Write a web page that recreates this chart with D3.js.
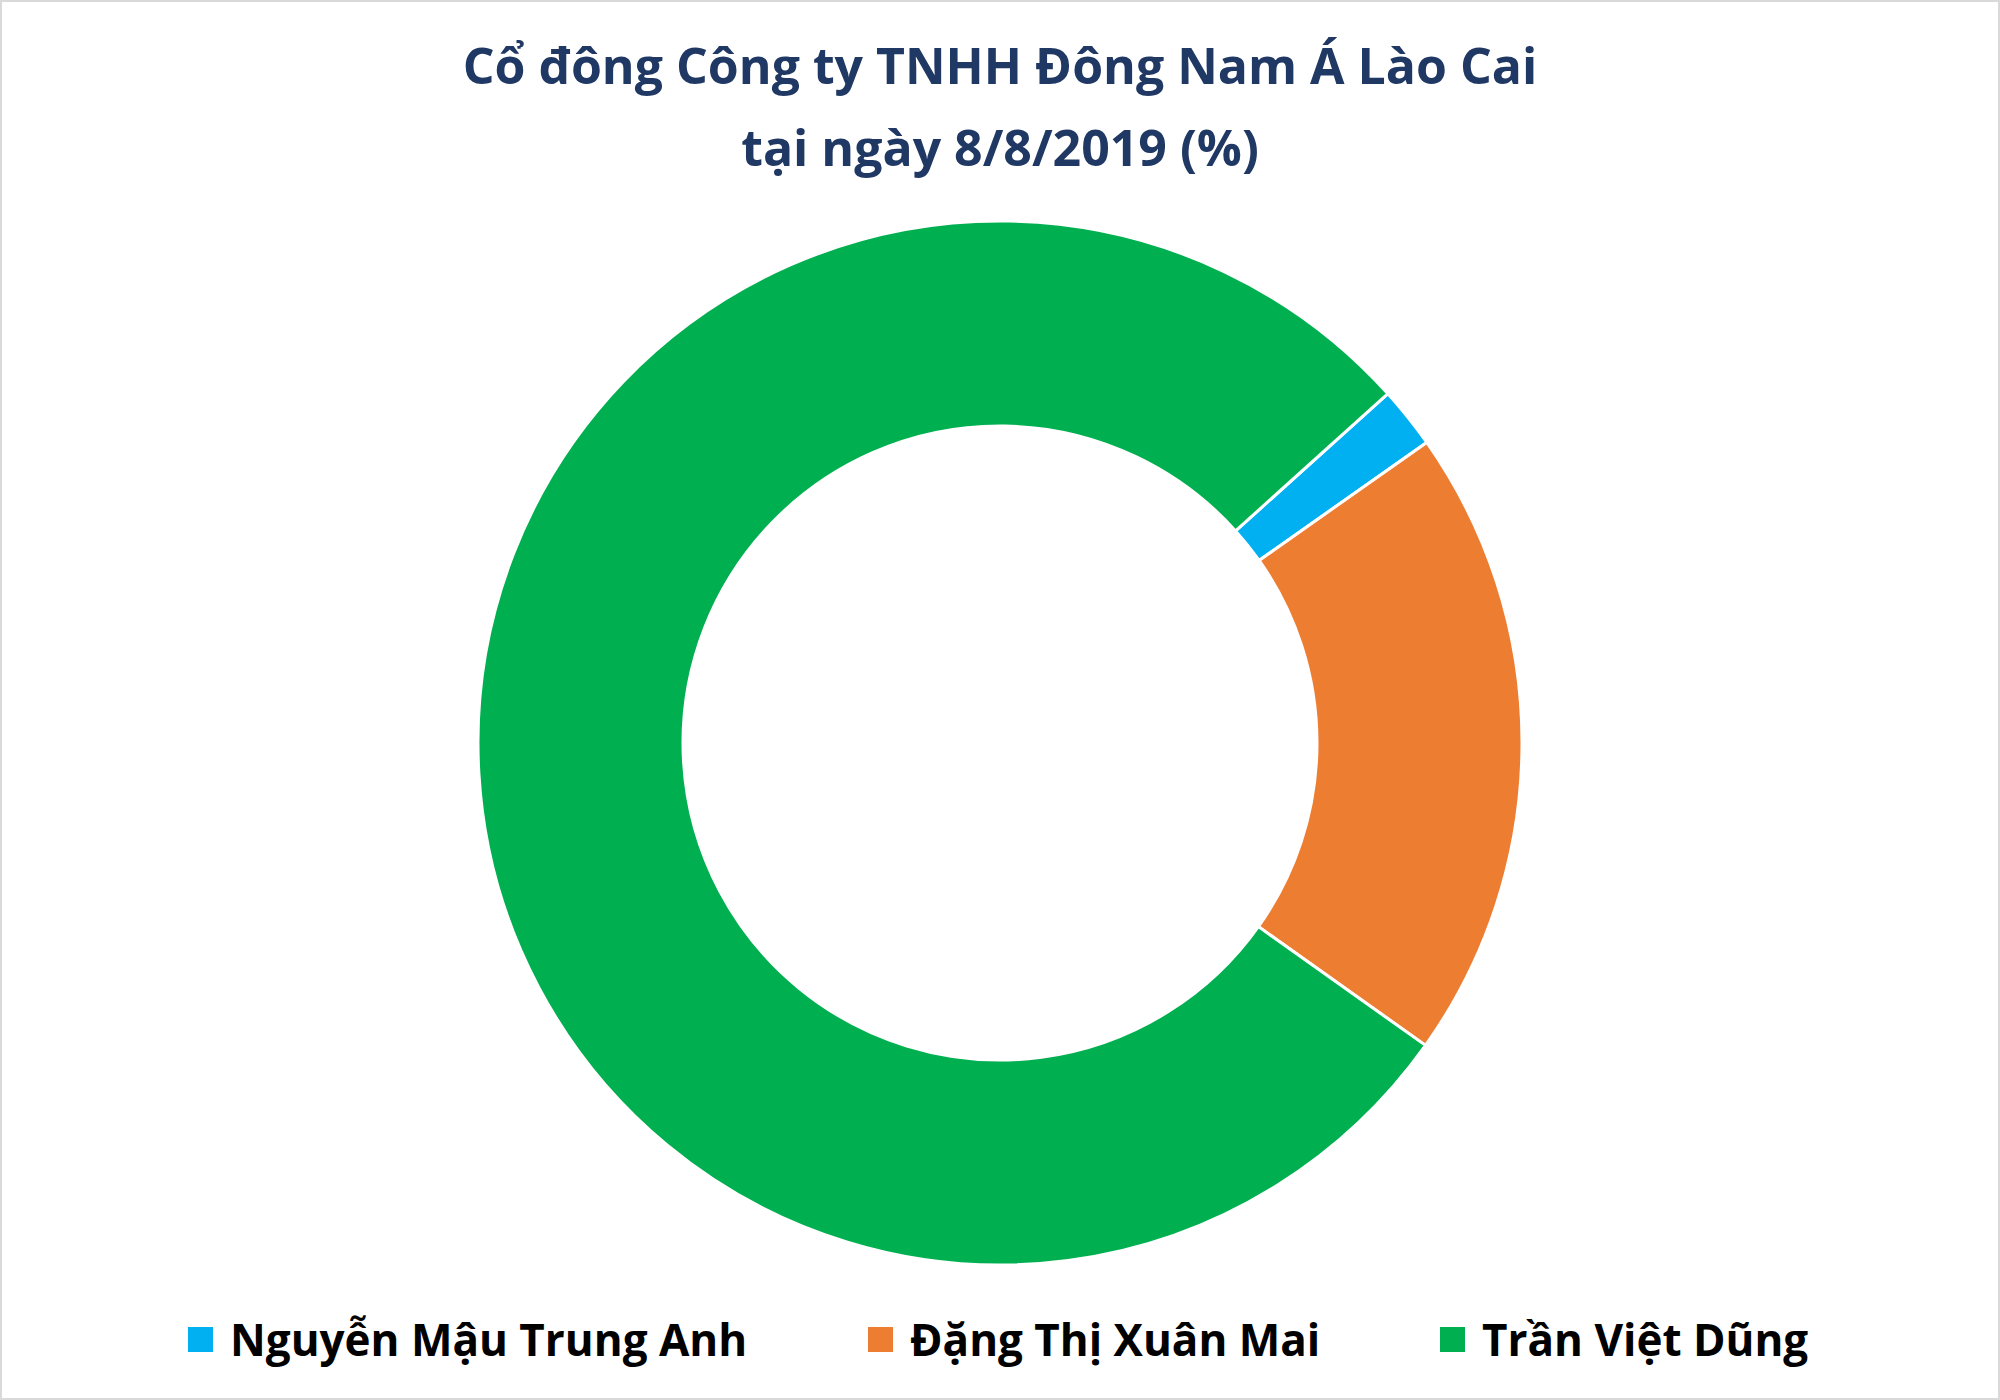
<!DOCTYPE html>
<html><head><meta charset="utf-8">
<script src="https://cdn.jsdelivr.net/npm/d3@7"></script>
<style>body{margin:0;background:#fff}</style>
</head><body>
<svg id="c" width="2000" height="1400"></svg>
<script>
var names = ["Nguyễn Mậu Trung Anh", "Đặng Thị Xuân Mai", "Trần Việt Dũng"];
var values = [1.9, 19.6, 78.5];
var colors = ["#00b0f0", "#ed7d31", "#00b050"];
var titleLines = ["Cổ đông Công ty TNHH Đông Nam Á Lào Cai", "tại ngày 8/8/2019 (%)"];

var svg = d3.select("#c");
svg.append("rect").attr("x", 1).attr("y", 1).attr("width", 1998).attr("height", 1398)
    .attr("fill", "#fff").attr("stroke", "#d9d9d9").attr("stroke-width", 2);

svg.selectAll("text.title").data(titleLines).enter().append("text")
    .attr("class", "title")
    .attr("x", 1000).attr("y", function(d, i) { return 84 + i * 82; })
    .attr("text-anchor", "middle")
    .attr("font-family", "Open Sans, sans-serif").attr("font-weight", "bold")
    .attr("font-size", 50).attr("fill", "#203864")
    .text(function(d) { return d; });

var start = 48 * Math.PI / 180;
var pie = d3.pie().sort(null).startAngle(start).endAngle(start + 2 * Math.PI);
var arc = d3.arc().innerRadius(317).outerRadius(522);
svg.append("g").attr("transform", "translate(1000,743)")
    .selectAll("path").data(pie(values)).enter().append("path")
    .attr("d", arc)
    .attr("fill", function(d, i) { return colors[i]; })
    .attr("stroke", "#fff").attr("stroke-width", 3);

var legendX = [188, 868, 1440];
var lg = svg.selectAll("g.lg").data(names).enter().append("g")
    .attr("transform", function(d, i) { return "translate(" + legendX[i] + ",1340)"; });
lg.append("rect").attr("x", 0).attr("y", -13).attr("width", 25).attr("height", 25)
    .attr("fill", function(d, i) { return colors[i]; });
lg.append("text").attr("x", 42).attr("y", 16)
    .attr("font-family", "Open Sans, sans-serif").attr("font-weight", "bold")
    .attr("font-size", 44).attr("fill", "#000")
    .text(function(d) { return d; });
</script>
</body></html>
